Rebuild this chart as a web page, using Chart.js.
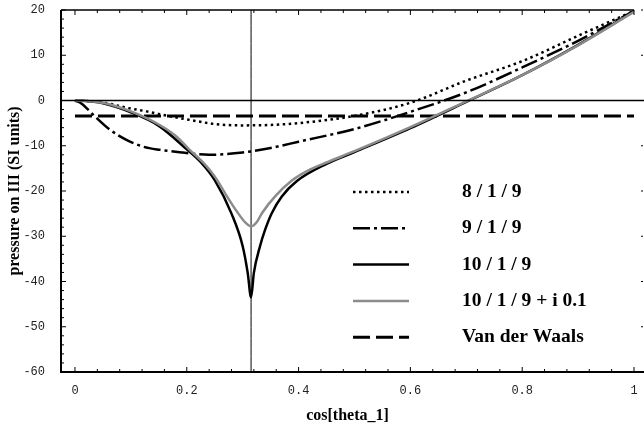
<!DOCTYPE html>
<html>
<head>
<meta charset="utf-8">
<script src="https://cdn.jsdelivr.net/npm/chart.js@4.4.1/dist/chart.umd.min.js"></script>
<style>
  html, body { margin: 0; padding: 0; background: #fff; }
  #wrap { width: 644px; height: 428px; }
</style>
</head>
<body>
<div id="wrap"><canvas id="pressureChart"></canvas></div>
<script>
// values
var labels = ['8 / 1 / 9', '9 / 1 / 9', '10 / 1 / 9', '10 / 1 / 9 + i 0.1', 'Van der Waals'];

var x819 = [0, 0.05, 0.092, 0.128, 0.17, 0.206, 0.25, 0.3, 0.35, 0.4, 0.5, 0.6, 0.7, 0.8, 0.9, 1.0];
var y819 = [0, -0.4, -1.6, -2.4, -3.5, -4.3, -5.2, -5.5, -5.4, -5.0, -3.4, -0.5, 4.4, 8.7, 14.3, 19.8];

var x919 = [0, 0.012, 0.033, 0.063, 0.092, 0.122, 0.152, 0.193, 0.24, 0.3, 0.35, 0.4, 0.5, 0.6, 0.7, 0.8, 0.9, 1.0];
var y919 = [0, -0.7, -3.2, -6.5, -8.7, -10.2, -10.9, -11.5, -12.0, -11.5, -10.5, -9.1, -6.3, -2.5, 1.8, 7.3, 13.2, 19.8];

var x1019 = [0, 0.02, 0.05, 0.1, 0.15, 0.2, 0.227, 0.25, 0.28, 0.3, 0.309, 0.315, 0.32, 0.331, 0.34, 0.352, 0.37, 0.397, 0.45, 0.5, 0.6, 0.7, 0.8, 0.9, 1.0];
var y1019 = [0, -0.1, -0.6, -2.6, -5.6, -10.8, -13.9, -17.6, -25.0, -32.2, -38.1, -43.5, -38.1, -32.2, -28.6, -24.9, -21.2, -17.8, -14.0, -11.4, -6.1, -0.3, 5.6, 12.3, 19.7];

var xImag = [0, 0.02, 0.05, 0.1, 0.15, 0.182, 0.206, 0.23, 0.25, 0.27, 0.29, 0.305, 0.315, 0.325, 0.335, 0.358, 0.388, 0.42, 0.45, 0.5, 0.6, 0.7, 0.8, 0.9, 1.0];
var yImag = [0, -0.1, -0.5, -2.4, -5.3, -8.0, -11.0, -13.8, -16.8, -20.8, -24.6, -27.0, -27.8, -26.9, -24.8, -21.2, -17.7, -15.3, -13.7, -11.2, -5.9, -0.2, 5.6, 12.2, 19.6];

var xVdw = [0, 1];
var yVdw = [-3.4, -3.4];

var cuspX = [0.315, 0.315];
var cuspY = [-60, 20];

function pts(xs, ys) {
    return xs.map(function(x, i) { return { x: x, y: ys[i] }; });
}

// frame, zero line and inward ticks like the original plot
var framePlugin = {
    id: 'frame',
    afterDatasetsDraw: function(chart) {
        var c = chart.ctx, a = chart.chartArea;
        var xs = chart.scales.x, ys = chart.scales.y;
        c.save();
        c.strokeStyle = '#000';
        // zero line
        c.lineWidth = 1.5;
        var y0 = ys.getPixelForValue(0);
        c.beginPath(); c.moveTo(a.left, y0); c.lineTo(chart.width, y0); c.stroke();
        // frame
        c.lineWidth = 2;
        c.beginPath(); c.moveTo(a.left, a.top); c.lineTo(a.left, a.bottom); c.lineTo(chart.width, a.bottom); c.stroke();
        c.lineWidth = 1.5;
        c.beginPath(); c.moveTo(a.left, a.top); c.lineTo(a.right, a.top); c.stroke();
        c.lineWidth = 1;
        c.beginPath();
        xs.ticks.forEach(function(t) {
            var p = xs.getPixelForValue(t.value);
            var len = Math.abs(t.value / 0.2 - Math.round(t.value / 0.2)) < 1e-6 ? 5 : 3;
            c.moveTo(p, a.bottom); c.lineTo(p, a.bottom - len);
            c.moveTo(p, a.top); c.lineTo(p, a.top + len);
        });
        ys.ticks.forEach(function(t) {
            var p = ys.getPixelForValue(t.value);
            var major = t.value % 10 === 0;
            var len = major ? 5 : 3;
            c.moveTo(a.left, p); c.lineTo(a.left + len, p);
            if (major) { c.moveTo(chart.width - 1, p); c.lineTo(chart.width - 3, p); }
        });
        c.stroke();
        c.restore();
    }
};

// legend drawn inside the plot, lower right
var legendPlugin = {
    id: 'insideLegend',
    afterDraw: function(chart) {
        var c = chart.ctx;
        c.save();
        c.font = 'bold 19.5px "Liberation Serif", "Times New Roman", serif';
        c.textBaseline = 'middle';
        c.textAlign = 'left';
        c.fillStyle = '#000';
        for (var i = 0; i < labels.length; i++) {
            var ds = chart.data.datasets[i];
            var y = 192 + i * 36.3;
            c.strokeStyle = ds.borderColor;
            c.lineWidth = ds.borderWidth;
            c.setLineDash(ds.borderDash || []);
            c.beginPath(); c.moveTo(353, y); c.lineTo(409, y); c.stroke();
            c.fillText(labels[i], 462, y);
        }
        c.restore();
    }
};

var ctx = document.getElementById('pressureChart').getContext('2d');

var chart = new Chart(ctx, {
    type: 'line',
    data: {
        datasets: [{
            label: labels[0],
            data: pts(x819, y819),
            borderColor: '#000',
            borderWidth: 2.5,
            borderDash: [2.5, 3.5],
            order: 3
        }, {
            label: labels[1],
            data: pts(x919, y919),
            borderColor: '#000',
            borderWidth: 2.5,
            borderDash: [17, 4, 3, 4],
            order: 2
        }, {
            label: labels[2],
            data: pts(x1019, y1019),
            borderColor: '#000',
            borderWidth: 2.5,
            order: 1
        }, {
            label: labels[3],
            data: pts(xImag, yImag),
            borderColor: '#8c8c8c',
            borderWidth: 2.5,
            order: 0
        }, {
            label: labels[4],
            data: pts(xVdw, yVdw),
            borderColor: '#000',
            borderWidth: 3,
            borderDash: [17, 6],
            order: 4
        }, {
            label: 'cusp',
            data: pts(cuspX, cuspY),
            borderColor: '#000',
            borderWidth: 1,
            order: 5
        }]
    },
    options: {
        responsive: true,
        maintainAspectRatio: false,
        animation: false,
        layout: { padding: { left: 0, top: 10, right: 10, bottom: 0 } },
        elements: {
            point: { radius: 0 },
            line: { cubicInterpolationMode: 'monotone', fill: false }
        },
        scales: {
            x: {
                type: 'linear',
                min: -0.025,
                max: 1,
                grid: { display: false },
                border: { display: false },
                afterBuildTicks: function(scale) {
                    var t = [];
                    for (var i = 0; i <= 25; i++) t.push({ value: +(i * 0.04).toFixed(2) });
                    scale.ticks = t;
                },
                afterFit: function(scale) {
                    scale.height = 56;
                    scale.paddingLeft = 0;
                    scale.paddingRight = 0;
                },
                ticks: {
                    autoSkip: false,
                    maxRotation: 0,
                    padding: 4,
                    color: '#222',
                    font: { family: '"Liberation Mono", monospace', size: 12 },
                    callback: function(v) {
                        var r = v / 0.2;
                        if (Math.abs(r - Math.round(r)) > 1e-6) return '';
                        return String(+v.toFixed(1));
                    }
                },
                title: {
                    display: true,
                    text: 'cos[theta_1]',
                    color: '#000',
                    padding: { top: 0, bottom: 3 },
                    font: { family: '"Liberation Serif", "Times New Roman", serif', size: 16, weight: 'bold' }
                }
            },
            y: {
                min: -60,
                max: 20,
                grid: { display: false },
                border: { display: false },
                afterBuildTicks: function(scale) {
                    var t = [];
                    for (var v = -60; v <= 20; v += 2) t.push({ value: v });
                    scale.ticks = t;
                },
                afterFit: function(scale) {
                    scale.width = 61;
                    scale.paddingTop = 0;
                    scale.paddingBottom = 0;
                },
                ticks: {
                    autoSkip: false,
                    padding: 8,
                    color: '#222',
                    font: { family: '"Liberation Mono", monospace', size: 12 },
                    callback: function(v) { return v % 10 === 0 ? String(v) : ''; }
                },
                title: {
                    display: true,
                    text: 'pressure on III (SI units)',
                    color: '#000',
                    padding: { top: 5, bottom: 0 },
                    font: { family: '"Liberation Serif", "Times New Roman", serif', size: 16, weight: 'bold' }
                }
            }
        },
        plugins: {
            legend: { display: false },
            tooltip: { enabled: false }
        }
    },
    plugins: [framePlugin, legendPlugin]
});
</script>
</body>
</html>
